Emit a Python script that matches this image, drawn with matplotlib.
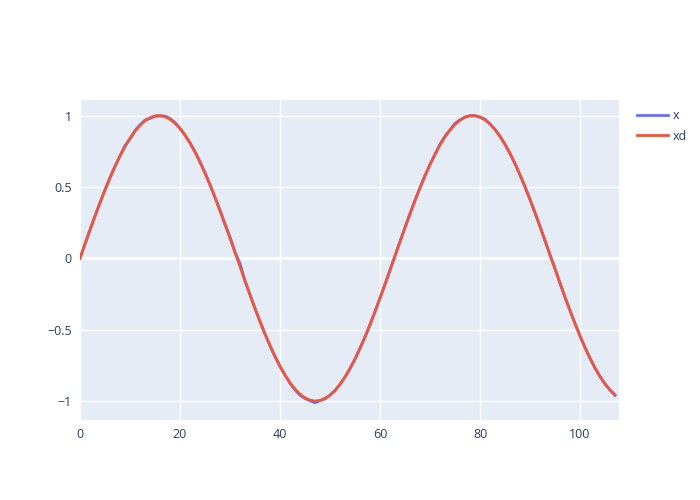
import matplotlib
matplotlib.use("Agg")
import matplotlib.pyplot as plt

t = list(range(0, 108))
xd = [0.000, 0.100, 0.199, 0.296, 0.389, 0.479, 0.565, 0.644, 0.717, 0.783,
      0.841, 0.891, 0.932, 0.964, 0.985, 0.997, 1.000, 0.992, 0.974, 0.946,
      0.909, 0.863, 0.808, 0.746, 0.675, 0.598, 0.516, 0.427, 0.335, 0.239,
      0.141, 0.042, -0.058, -0.158, -0.256, -0.351, -0.443, -0.530, -0.612, -0.688,
      -0.757, -0.818, -0.872, -0.916, -0.952, -0.978, -0.994, -1.000, -0.996, -0.982,
      -0.959, -0.926, -0.883, -0.832, -0.773, -0.706, -0.631, -0.551, -0.465, -0.374,
      -0.279, -0.182, -0.083, 0.017, 0.117, 0.215, 0.312, 0.405, 0.494, 0.578,
      0.657, 0.729, 0.794, 0.851, 0.899, 0.938, 0.968, 0.988, 0.999, 0.999,
      0.989, 0.970, 0.941, 0.902, 0.855, 0.798, 0.734, 0.663, 0.585, 0.501,
      0.412, 0.319, 0.223, 0.124, 0.024, -0.075, -0.174, -0.272, -0.366, -0.457,
      -0.544, -0.625, -0.700, -0.768, -0.828, -0.880, -0.923, -0.957]
x = [0.000, 0.100, 0.199, 0.296, 0.389, 0.479, 0.565, 0.644, 0.717, 0.790,
     0.835, 0.895, 0.935, 0.968, 0.980, 0.995, 0.998, 0.996, 0.980, 0.950,
     0.912, 0.863, 0.808, 0.746, 0.675, 0.598, 0.516, 0.427, 0.335, 0.239,
     0.150, 0.042, -0.035, -0.158, -0.256, -0.351, -0.443, -0.530, -0.612, -0.688,
     -0.757, -0.818, -0.876, -0.922, -0.960, -0.982, -0.998, -1.012, -0.998, -0.985,
     -0.959, -0.926, -0.883, -0.832, -0.773, -0.706, -0.631, -0.551, -0.465, -0.374,
     -0.279, -0.182, -0.083, 0.017, 0.117, 0.215, 0.312, 0.405, 0.494, 0.578,
     0.657, 0.729, 0.800, 0.856, 0.899, 0.945, 0.970, 0.990, 0.999, 0.999,
     0.989, 0.975, 0.941, 0.902, 0.855, 0.798, 0.734, 0.663, 0.585, 0.501,
     0.412, 0.319, 0.223, 0.124, 0.024, -0.070, -0.174, -0.272, -0.366, -0.457,
     -0.544, -0.625, -0.700, -0.768, -0.828, -0.880, -0.923, -0.960]

xticks = [0, 20, 40, 60, 80, 100]
yticks = [-1, -0.5, 0, 0.5, 1]
ytick_labels = ["\u22121", "\u22120.5", "0", "0.5", "1"]

plt.rcParams['font.family'] = ['Open Sans', 'DejaVu Sans']
fig = plt.figure(figsize=(7, 5), dpi=100)
ax = fig.add_axes([80/700, 80/500, 539/700, 320/500])
ax.set_facecolor('#E5ECF6')
for s in ax.spines.values():
    s.set_visible(False)

ax.set_xlim(0, 107.8)
ax.set_ylim(-1.133, 1.109)
ax.set_xticks(xticks)
ax.set_yticks(yticks)
ax.set_yticklabels(ytick_labels)
ax.tick_params(length=0, labelsize=9, colors='#2a3f5f', pad=6)
for v in xticks:
    ax.axvline(v, color='white', lw=1, zorder=0)
for v in yticks:
    ax.axhline(v, color='white', lw=2 if v == 0 else 1, zorder=0)

ax.plot(t, x, color='#636efa', lw=2, label='x', zorder=2,
        solid_joinstyle='round')
ax.plot(t, xd, color='#EF553B', lw=2, label='xd', zorder=3,
        solid_joinstyle='round')

leg = ax.legend(loc='upper left', bbox_to_anchor=(632/700, 1 - 104/500),
                bbox_transform=fig.transFigure, frameon=False, fontsize=9,
                handlelength=2.5, handletextpad=0.4, labelspacing=0.6,
                borderaxespad=0)
for txt in leg.get_texts():
    txt.set_color('#2a3f5f')

fig.savefig('out.png', dpi=100)
